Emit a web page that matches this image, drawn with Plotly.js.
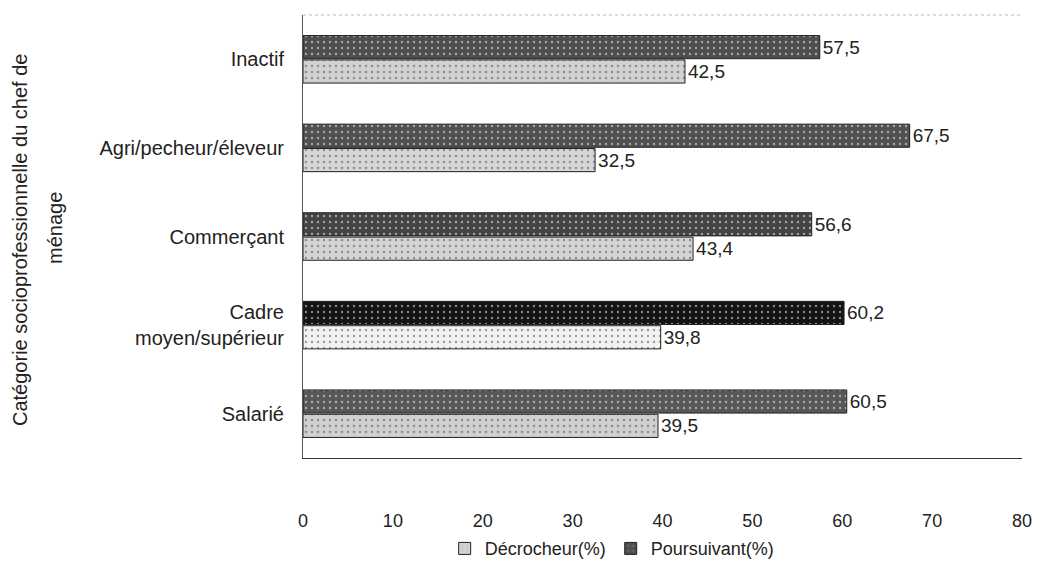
<!DOCTYPE html>
<html>
<head>
<meta charset="utf-8">
<script src="https://cdn.plot.ly/plotly-3.0.1.min.js"></script>
<style>html,body{margin:0;padding:0;background:#fff;}#chart{width:1040px;height:562px;}</style>
</head>
<body>
<div id="chart"></div>
<script>
const categories = ["Inactif", "Agri/pecheur/éleveur", "Commerçant", "Cadre<br>moyen/supérieur", "Salarié"];
const poursuivant = [57.5, 67.5, 56.6, 60.2, 60.5];
const decrocheur = [42.5, 32.5, 43.4, 39.8, 39.5];
const xTicks = [0, 10, 20, 30, 40, 50, 60, 70, 80];

const fmt = v => v.toFixed(1).replace('.', ',');
const darkColors = ['#4e4e4e', '#505050', '#444444', '#141414', '#585858'];
const lightColors = ['#d2d2d2', '#d6d6d6', '#d4d4d4', '#f2f2f2', '#d0d0d0'];
const font = 'Liberation Sans, Arial, sans-serif';

const traces = [
  {
    type: 'bar', orientation: 'h', name: 'Poursuivant(%)',
    y: categories, x: poursuivant,
    text: poursuivant.map(fmt), textposition: 'outside', cliponaxis: false,
    textfont: {family: font, size: 19, color: '#222'},
    marker: {color: darkColors, line: {color: '#222', width: 1},
      pattern: {shape: '.', fillmode: 'overlay', fgcolor: '#9a9a9a', size: 6, solidity: 0.12}},
    legendrank: 2, hoverinfo: 'x'
  },
  {
    type: 'bar', orientation: 'h', name: 'Décrocheur(%)',
    y: categories, x: decrocheur,
    text: decrocheur.map(fmt), textposition: 'outside', cliponaxis: false,
    textfont: {family: font, size: 19, color: '#222'},
    marker: {color: lightColors, line: {color: '#222', width: 1},
      pattern: {shape: '.', fillmode: 'overlay', fgcolor: '#a0a0a0', size: 6, solidity: 0.12}},
    legendrank: 1, hoverinfo: 'x'
  }
];

const layout = {
  width: 1040, height: 562,
  margin: {l: 303, r: 18, t: 15, b: 104, autoexpand: false},
  paper_bgcolor: '#fff', plot_bgcolor: '#fff',
  font: {family: font, size: 18, color: '#222'},
  barmode: 'group', bargap: 0.45, bargroupgap: 0.05,
  showlegend: true,
  legend: {orientation: 'h', x: 0.43, xanchor: 'center', y: -0.163, yanchor: 'top',
    font: {family: font, size: 18, color: '#222'}, traceorder: 'normal', itemwidth: 30},
  xaxis: {
    range: [0, 80], tickvals: xTicks, ticktext: xTicks.map(String),
    showgrid: false, zeroline: false, showline: true, linecolor: '#333', linewidth: 1,
    ticks: '', ticklabelstandoff: 46, automargin: false,
    tickfont: {family: font, size: 18, color: '#222'}
  },
  yaxis: {
    autorange: 'reversed', type: 'category', automargin: false,
    showgrid: false, zeroline: false, showline: true, linecolor: '#555', linewidth: 1,
    ticks: '', ticklabelstandoff: 14, tickfont: {family: font, size: 20, color: '#222'}
  },
  shapes: [
    {type: 'line', xref: 'paper', yref: 'paper', x0: 0, x1: 1, y0: 1, y1: 1,
     line: {color: '#bbb', width: 1, dash: 'dot'}}
  ],
  annotations: [
    {text: 'Catégorie socioprofessionnelle du chef de', textangle: -90,
     xref: 'paper', yref: 'paper', x: -(303 - 20) / 719, y: (458 - 240) / 443,
     xanchor: 'center', yanchor: 'middle',
     showarrow: false, font: {family: font, size: 20, color: '#222'}},
    {text: 'ménage', textangle: -90,
     xref: 'paper', yref: 'paper', x: -(303 - 55) / 719, y: (458 - 228) / 443,
     xanchor: 'center', yanchor: 'middle',
     showarrow: false, font: {family: font, size: 20, color: '#222'}}
  ]
};

Plotly.newPlot('chart', traces, layout, {displayModeBar: false, staticPlot: true});
</script>
</body>
</html>
